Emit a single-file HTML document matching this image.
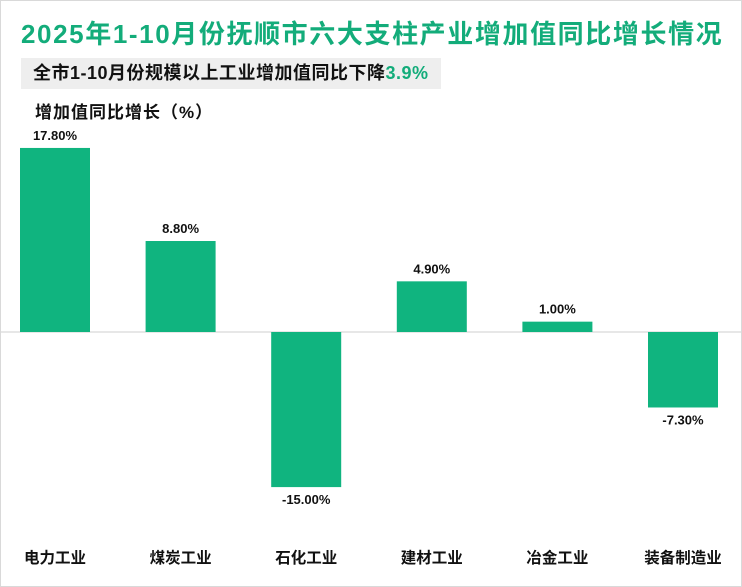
<!DOCTYPE html>
<html><head><meta charset="utf-8"><style>
body{margin:0;background:#fff;}
#wrap{position:relative;width:740px;height:585px;border:1px solid #d9d9d9;font-family:"Liberation Sans","Noto Sans CJK SC",sans-serif;overflow:hidden;}
#title{position:absolute;left:20px;top:13px;font-size:26px;font-weight:bold;color:#13ac7a;white-space:nowrap;letter-spacing:1.6px;}
#sub{position:absolute;left:20px;top:57px;width:420px;height:31px;background:#eeeeee;font-size:18px;font-weight:bold;line-height:31px;padding-left:12px;box-sizing:border-box;color:#111;white-space:nowrap;letter-spacing:0.5px;}
#sub span{color:#13ac7a;}
#ylab{position:absolute;left:34px;top:97px;font-size:17px;font-weight:bold;color:#111;letter-spacing:1px;}
svg{position:absolute;left:0;top:0;}
</style></head><body>
<div id="wrap">
<div id="title">2025年1-10月份抚顺市六大支柱产业增加值同比增长情况</div>
<div id="sub">全市1-10月份规模以上工业增加值同比下降<span>3.9%</span></div>
<div id="ylab">增加值同比增长（%）</div>
<svg id="chart" width="740" height="585"></svg>
</div>
<script>
const categories=["电力工业","煤炭工业","石化工业","建材工业","冶金工业","装备制造业"];
const values=[17.8,8.8,-15.0,4.9,1.0,-7.3];
const labels=["17.80%","8.80%","-15.00%","4.90%","1.00%","-7.30%"];
const svg=document.getElementById('chart');
const NS='http://www.w3.org/2000/svg';
const zeroY=331, pxPerUnit=10.34, x0=19, step=125.6, bw=70;
function y(v){return zeroY-v*pxPerUnit;}
function x(i){return x0+i*step;}
function mk(t,a){const e=document.createElementNS(NS,t);for(const k in a)e.setAttribute(k,a[k]);svg.appendChild(e);return e;}
const zl=mk('line',{x1:0,x2:740,y1:zeroY,y2:zeroY,stroke:'#cfcfcf','stroke-width':1});


values.forEach((v,i)=>{
  const top=Math.min(y(v),zeroY), h=Math.abs(y(v)-zeroY);
  const r=mk('rect',{x:x(i),y:top,width:bw,height:h,fill:'#10b47f'});
  
  
  const ty=v>=0?y(v)-8:y(v)+17;
  const t=mk('text',{x:x(i)+bw/2,y:ty,'text-anchor':'middle','font-size':13,'font-weight':'bold',fill:'#111'});
  t.textContent=labels[i];
  
  
  const c=mk('text',{x:x(i)+bw/2,y:562,'text-anchor':'middle','font-size':15.5,'font-weight':'bold',fill:'#111'});
  c.textContent=categories[i];
  
  
});
</script>
</body></html>
